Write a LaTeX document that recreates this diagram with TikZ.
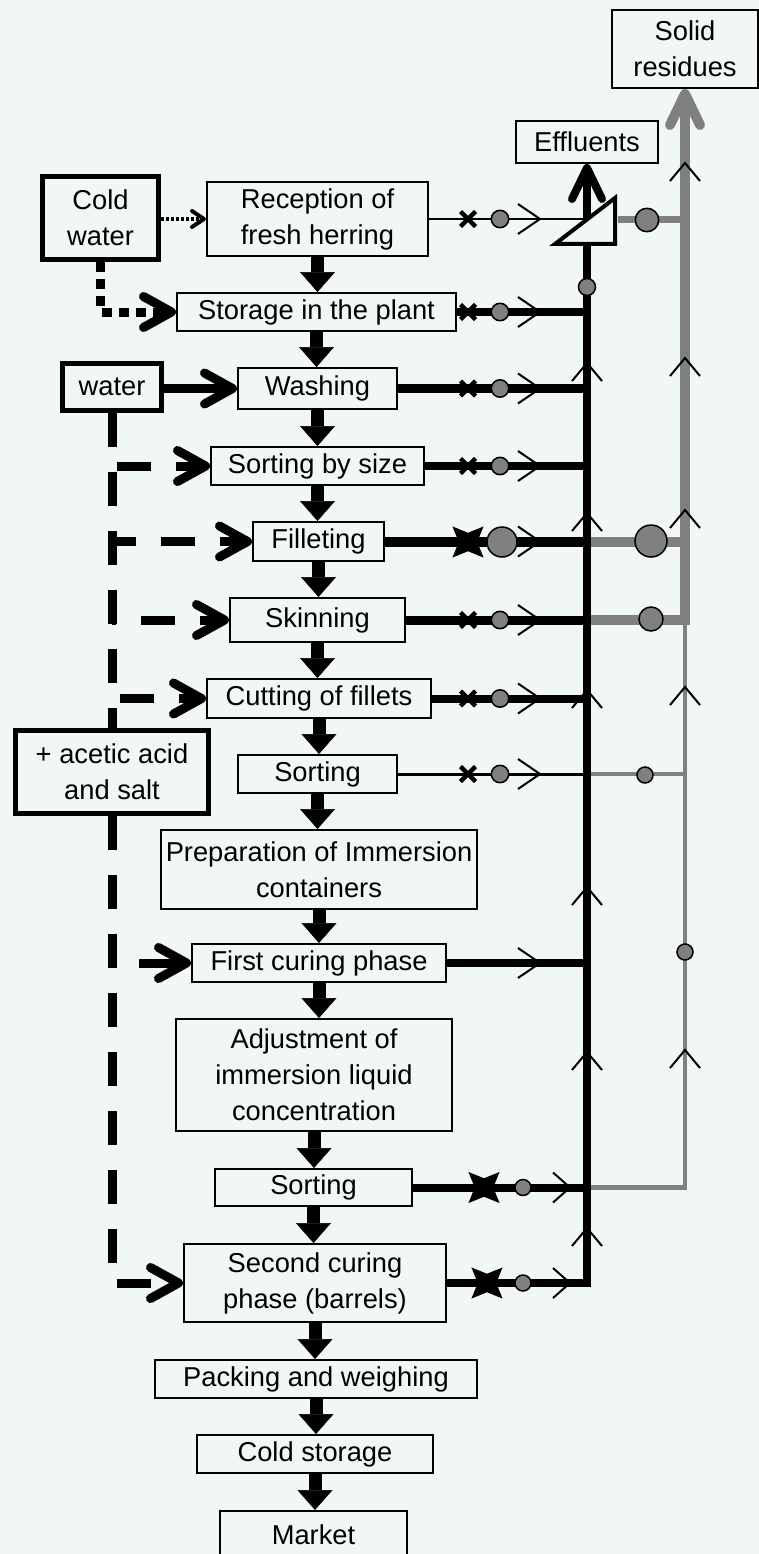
\documentclass[tikz,border=0pt]{standalone}
\usepackage{fontspec}
\setmainfont{Liberation Sans}[Ligatures=NoCommon]
\usetikzlibrary{arrows.meta}
\usetikzlibrary{calc}
\usetikzlibrary{positioning}

\definecolor{paper}{RGB}{241,247,243}
\definecolor{residue}{RGB}{128,128,128}

\begin{document}
\begin{tikzpicture}[x=1pt, y=-1pt]

\tikzset{
    stage/.style 2 args={draw, line width=2pt, inner sep=0pt, align=center,
        minimum width=#1, minimum height=#2, font=\fontsize{27.3pt}{36pt}\selectfont},
    source/.style 2 args={stage={#1}{#2}, line width=5pt},
    flow/.style={line width=13pt, -{Triangle[length=20pt, width=35pt, line width=0.5pt]}},
    feed/.style={line width=#1, -{Straight Barb[length=28pt, width=31pt, line width=#1, round]}},
    feed/.default=9pt,
    waterline/.style={feed, dash pattern=on 34pt off 25pt},
    coldline/.style={feed, dash pattern=on 10pt off 7pt},
    finecold/.style={line width=4pt, dash pattern=on 3pt off 2pt,
        -{Straight Barb[length=12pt, width=16pt, line width=4pt, round]}},
    trunk/.style={line width=#1, -{Straight Barb[length=31pt, width=30pt, line width=#1, round]}},
    blob/.style={fill=residue, draw=black, line width=1.5pt}
}

\tikzset{
    pics/cutmark/.style={code={
        \fill (45:#1) -- (90:{0.42*#1}) -- (135:#1) -- (180:{0.42*#1})
           -- (225:#1) -- (270:{0.42*#1}) -- (315:#1) -- (0:{0.42*#1}) -- cycle;
    }},
    pics/smallcut/.style={code={
        \draw[line width=4.5pt] (-7.5pt,-7.5pt) -- (7.5pt,7.5pt)
            (-7.5pt,7.5pt) -- (7.5pt,-7.5pt);
    }},
    pics/flowtick/.style={code={
        \draw[line width=2pt] (-#1,-15pt) -- (0pt,0pt) -- (-#1,15pt);
    }}
}

%%%%%%%%%%%%%%%%%%%%%%%%%%%%%%%%%%%%%%%%%%%%%%%%%%%%%%%%%
%                       Begin Picture                   %
%%%%%%%%%%%%%%%%%%%%%%%%%%%%%%%%%%%%%%%%%%%%%%%%%%%%%%%%%

\useasboundingbox (0,0) rectangle (759,1554);
\fill[paper] (0,0) rectangle (759,1554);

%process chain
\node[stage={221pt}{74pt}] (recep) at (317.5,219) {Reception of\\fresh herring};
\node[stage={279pt}{38pt}] (store) at (316.5,312) {Storage in the plant};
\node[stage={159pt}{41pt}] (wash) at (317.5,388.5) {Washing};
\node[stage={213pt}{38pt}] (sortsize) at (317.5,466) {Sorting by size};
\node[stage={131pt}{39pt}] (fillet) at (318.5,541.5) {Filleting};
\node[stage={175pt}{44pt}] (skin) at (317.5,620) {Skinning};
\node[stage={224pt}{39pt}] (cut) at (319,698.5) {Cutting of fillets};
\node[stage={159pt}{38pt}] (sortA) at (317.5,774) {Sorting};
\node[stage={316pt}{79pt}] (prep) at (319,869.5) {Preparation of Immersion\\containers};
\node[stage={254pt}{38pt}] (cureA) at (319,963) {First curing phase};
\node[stage={276pt}{112pt}] (adjust) at (314,1075) {Adjustment of\\immersion liquid\\concentration};
\node[stage={197pt}{37pt}] (sortB) at (313.5,1187.5) {Sorting};
\node[stage={262pt}{78pt}] (cureB) at (315,1283) {Second curing\\phase (barrels)};
\node[stage={322pt}{38pt}] (pack) at (316,1379) {Packing and weighing};
\node[stage={236pt}{38pt}] (coldst) at (315,1454) {Cold storage};
\node[stage={187pt}{48pt}] (market) at (313.5,1535) {Market};

\foreach \a/\b in {recep/store, store/wash, wash/sortsize, sortsize/fillet,
    fillet/skin, skin/cut, cut/sortA, sortA/prep, prep/cureA, cureA/adjust,
    adjust/sortB, sortB/cureB, cureB/pack, pack/coldst, coldst/market}
  \draw[flow] (\a.south) -- (\a.south |- \b.north);

%inputs
\node[source={116pt}{83pt}] (cold) at (100.5,218) {Cold\\water};
\node[source={99pt}{47pt}] (water) at (112,387) {water};
\node[source={193pt}{83pt}] (acid) at (112,772) {+ acetic acid\\and salt};

\draw[finecold] (cold.east |- recep.west) -- (recep.west);
\draw[coldline] (cold.south) |- (store.west);
\draw[feed] (water.east |- wash.west) -- (wash.west);

\draw[line width=9pt, dash pattern=on 34pt off 25pt] (water.south) -- (acid.north);
\draw[waterline, dash phase=54pt] (water.south |- sortsize.west) -- (sortsize.west);
\draw[waterline, dash phase=10pt] (water.south |- fillet.west) -- (fillet.west);
\draw[waterline, dash phase=30pt] (water.south |- skin.west) -- (skin.west);
\draw[waterline, dash phase=51pt] (water.south |- cut.west) -- (cut.west);
\draw[waterline] (acid.south) |- (cureB.west);
\draw[feed] ([xshift=-52pt]cureA.west) -- (cureA.west);

%outputs
\node[stage={142pt}{42pt}] (effl) at (587,142) {Effluents};
\node[stage={146pt}{78pt}] (solid) at (685,49) {Solid\\residues};

%solid residue lines
\coordinate (sepout) at (618,220);
\draw[residue, line width=7pt] (sepout) -- (sepout -| solid.south);
\draw[residue, line width=10pt] ([xshift=4pt]fillet.east -| effl.south) -- (fillet.east -| solid.south);
\draw[residue, line width=4pt] ([xshift=4pt]sortA.east -| effl.south) -- (sortA.east -| solid.south);
\draw[residue, line width=4.5pt] ([xshift=4pt]sortB.east -| effl.south) -| (skin.east -| solid.south);
\draw[residue, trunk=10pt] ([xshift=4pt]skin.east -| effl.south) -| (solid.south);

%effluent lines
\draw[line width=2.5pt] (recep.east) -- (recep.east -| effl.south);
\foreach \n/\w in {store/8.5pt, wash/8.5pt, sortsize/8.5pt, fillet/10pt, skin/9pt,
    cut/8pt, sortA/3pt, cureA/8pt, sortB/8pt}
  \draw[line width=\w] (\n.east) -- (\n.east -| effl.south);
\draw[trunk=8pt] (cureB.east) -| (effl.south);

%separator
\filldraw[fill=paper, line width=4pt] (555,244) -- (615,198) -- (615,244) -- cycle;

%marks on the outlets
\coordinate (cutx) at (468,0);
\coordinate (blobx) at (500,0);
\coordinate (tickx) at (540,0);
\foreach \n in {recep, store, wash, sortsize, skin, cut, sortA} {
  \pic at (cutx |- \n.east) {smallcut};
  \filldraw[blob] (blobx |- \n.east) circle (8.7pt);
}
\foreach \n in {recep, store, wash, sortsize, fillet, skin, cut, sortA, cureA}
  \pic at (tickx |- \n.east) {flowtick=22pt};

\pic at (468,542) {cutmark=22pt};
\filldraw[blob] (502,542) circle (15pt);
\foreach \n/\cx in {sortB/484, cureB/487} {
  \pic at (\cx,0 |- \n.east) {cutmark=22pt};
  \filldraw[blob] (523,0 |- \n.east) circle (8pt);
  \pic at (570,0 |- \n.east) {flowtick=17pt};
}

%marks on the collectors
\filldraw[blob] (587,287) circle (8.5pt);
\filldraw[blob] (647,220) circle (11.7pt);
\filldraw[blob] (651,541) circle (16pt);
\filldraw[blob] (651,619) circle (12pt);
\filldraw[blob] (645,775) circle (8pt);
\filldraw[blob] (685,952) circle (8pt);
\foreach \y in {363,513,690,887,1052,1228}
  \pic[rotate=90] at (587,\y) {flowtick=18pt};
\foreach \y in {163,358,510,687,1050}
  \pic[rotate=90] at (685,\y) {flowtick=18pt};

\end{tikzpicture}
\end{document}
